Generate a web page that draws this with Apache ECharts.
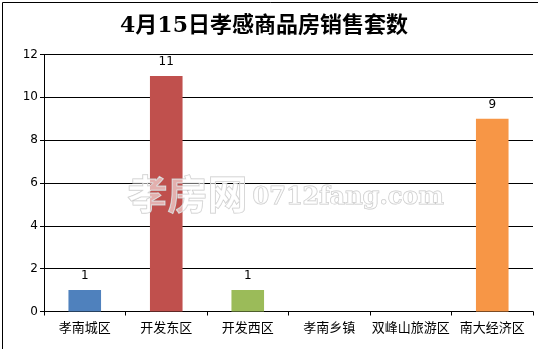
<!DOCTYPE html>
<html><head><meta charset="utf-8">
<script src="https://cdn.jsdelivr.net/npm/echarts@6/dist/echarts.min.js"></script>
<style>html,body{margin:0;padding:0;background:#fff}#c{width:538px;height:349px}</style>
</head><body><div id="c"></div>
<script>
var titleText = '4月15日孝感商品房销售套数';
var categories = ['孝南城区', '开发东区', '开发西区', '孝南乡镇', '双峰山旅游区', '南大经济区'];
var values = [1, 11, 1, 0, 0, 9];
var colors = ['#4F81BD', '#C0504D', '#9BBB59', '#4BACC6', '#8064A2', '#F79646'];
var yTicks = [0, 2, 4, 6, 8, 10, 12];

var chart = echarts.init(document.getElementById('c'), null, {renderer: 'canvas'});
chart.setOption({
  animation: false,
  backgroundColor: '#fff',
  title: {
    text: titleText, left: 259, top: 10, textAlign: 'center',
    textStyle: {fontFamily: '"DejaVu Serif", "Noto Sans CJK SC"', fontWeight: 'bold', fontSize: 22, color: '#000'}
  },
  grid: {left: 44, right: 5, top: 54.5, bottom: 37.5, containLabel: false},
  xAxis: {
    type: 'category', data: categories,
    axisLine: {lineStyle: {color: '#000', width: 1}},
    axisTick: {show: true, length: 4, lineStyle: {color: '#000'}},
    axisLabel: {color: '#000', fontSize: 13, margin: 9, interval: 0, fontFamily: '"Noto Sans CJK SC"'}
  },
  yAxis: {
    type: 'value', min: yTicks[0], max: yTicks[yTicks.length - 1], interval: 2,
    axisLine: {show: true, lineStyle: {color: '#000', width: 1}},
    axisTick: {show: true, length: 4, lineStyle: {color: '#000'}},
    splitLine: {lineStyle: {color: '#000', width: 1}},
    axisLabel: {color: '#000', fontSize: 12, margin: 6, fontFamily: '"DejaVu Sans"'}
  },
  series: [{
    type: 'bar', barWidth: '40%',
    data: values.map(function (v, i) { return {value: v, itemStyle: {color: colors[i]}}; }),
    label: {
      show: true, position: 'top', distance: 8, color: '#000', fontSize: 12,
      fontFamily: '"DejaVu Sans"',
      formatter: function (p) { return p.value === 0 ? '' : p.value; }
    }
  }],
  graphic: [
    {type: 'rect', left: 0, top: 0, z: 100, silent: true,
     shape: {x: 0.5, y: 0.5, width: 537, height: 348},
     style: {fill: 'none', stroke: '#000', lineWidth: 1}},
    {type: 'text', left: 127, top: 173, z: 100, silent: true,
     style: {text: '孝房网', font: 'bold 40px "Noto Sans CJK SC"', fill: 'rgba(255,255,255,0.55)', stroke: '#c8c8c8', lineWidth: 1}},
    {type: 'text', left: 252, top: 185, z: 100, silent: true,
     style: {text: '0712fang.com', font: 'bold 24px "DejaVu Serif"', fill: 'rgba(255,255,255,0.55)', stroke: '#c8c8c8', lineWidth: 1}}
  ]
});
</script>
</body></html>
